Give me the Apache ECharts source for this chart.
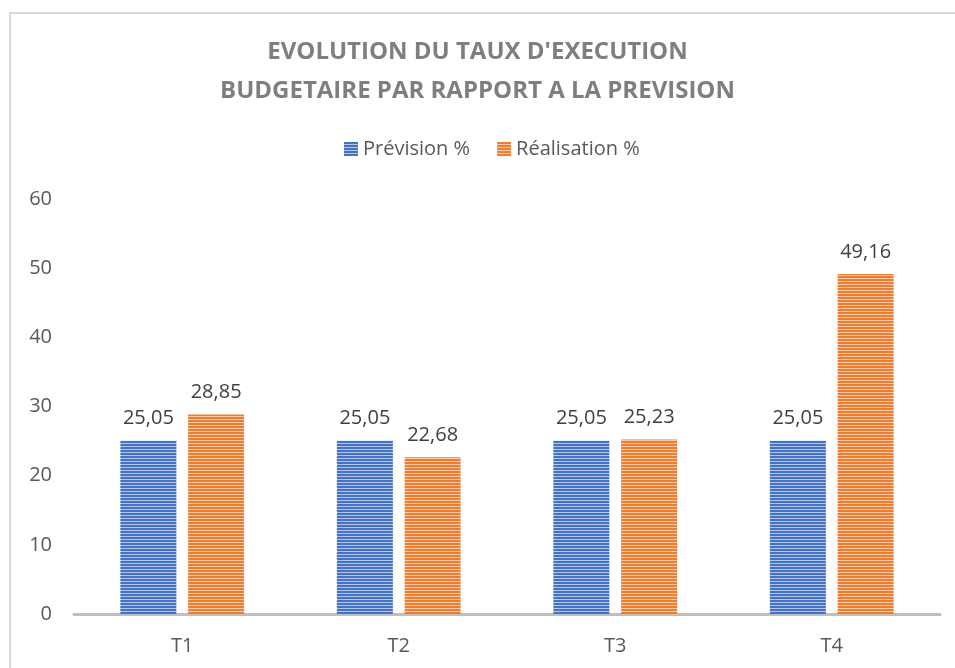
<!DOCTYPE html>
<html>
<head>
<meta charset="utf-8">
<script src="https://cdn.jsdelivr.net/npm/echarts@6/dist/echarts.min.js"></script>
<style>html,body{margin:0;padding:0;background:#fff;}#c{width:955px;height:668px;}</style>
</head>
<body>
<div id="c"></div>
<script>
const categories = ['T1', 'T2', 'T3', 'T4'];
const prevision = [25.05, 25.05, 25.05, 25.05];
const realisation = [28.85, 22.68, 25.23, 49.16];
const seriesNames = ['Prévision %', 'Réalisation %'];
const titleText = "EVOLUTION DU TAUX D'EXECUTION\nBUDGETAIRE PAR RAPPORT A LA PREVISION";

function stripes(base, light) {
  const cv = document.createElement('canvas');
  cv.width = 4; cv.height = 3;
  const ctx = cv.getContext('2d');
  ctx.fillStyle = base; ctx.fillRect(0, 0, 4, 3);
  ctx.fillStyle = light; ctx.fillRect(0, 2, 4, 1);
  return { image: cv, repeat: 'repeat' };
}
const blue = stripes('#4472C4', '#b4c6e7');
const orange = stripes('#ED7D31', '#f8cbad');

const fmt = p => String(p.value).replace('.', ',');
const font = '"Open Sans", sans-serif';

const chart = echarts.init(document.getElementById('c'));
chart.setOption({
  animation: false,
  textStyle: { fontFamily: font },
  graphic: [{
    type: 'rect', silent: true, z: -10,
    shape: { x: 10, y: 13, width: 960, height: 680 },
    style: { fill: 'none', stroke: '#d9d9d9', lineWidth: 2 }
  }],
  title: {
    text: titleText, left: 'center', top: 28,
    textStyle: { fontFamily: font, fontSize: 24, fontWeight: 'bold', color: '#7f7f7f', lineHeight: 39 }
  },
  legend: {
    top: 134, left: 339, itemWidth: 14, itemHeight: 14, itemGap: 27,
    icon: 'rect',
    textStyle: { fontFamily: font, fontSize: 20, color: '#595959' },
    data: seriesNames
  },
  grid: { left: 74, right: 15, top: 199, bottom: 54, containLabel: false },
  xAxis: {
    type: 'category', data: categories,
    axisLine: { lineStyle: { color: '#bfbfbf', width: 3 } },
    axisTick: { show: false },
    axisLabel: { fontSize: 20, color: '#595959', margin: 22, fontFamily: font }
  },
  yAxis: {
    type: 'value', min: 0, max: 60, interval: 10,
    splitLine: { show: false },
    axisLine: { show: false }, axisTick: { show: false },
    axisLabel: { fontSize: 20, color: '#595959', margin: 22, fontFamily: font }
  },
  series: [
    {
      name: seriesNames[0], type: 'bar', data: prevision, barWidth: 56, barGap: '21%',
      itemStyle: { color: blue },
      label: { show: true, position: 'top', distance: 12, formatter: fmt, fontSize: 20, color: '#404040', fontFamily: font }
    },
    {
      name: seriesNames[1], type: 'bar', data: realisation, barWidth: 56,
      itemStyle: { color: orange },
      label: { show: true, position: 'top', distance: 12, formatter: fmt, fontSize: 20, color: '#404040', fontFamily: font }
    }
  ]
});
</script>
</body>
</html>
